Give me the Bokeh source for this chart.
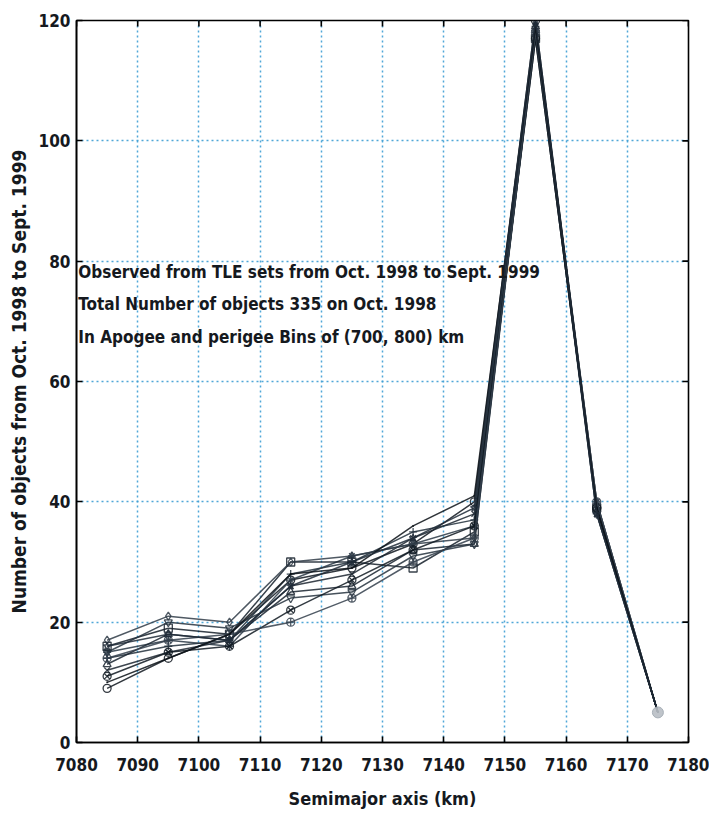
from bokeh.plotting import figure
from bokeh.models import FixedTicker, Range1d, Label
from bokeh.embed import file_html
from bokeh.resources import INLINE

# Semimajor-axis bin centres (km)
sma_bins = [7085, 7095, 7105, 7115, 7125, 7135, 7145, 7155, 7165, 7175]

# Monthly object counts per bin, Oct. 1998 .. Sept. 1999
months = ["Oct 1998", "Nov 1998", "Dec 1998", "Jan 1999", "Feb 1999", "Mar 1999",
          "Apr 1999", "May 1999", "Jun 1999", "Jul 1999", "Aug 1999", "Sep 1999"]
oct98 = [9, 14, 18, 27, 29, 33, 40, 120, 39, 5]
nov98 = [12, 15, 17, 26, 28, 34, 38, 119, 40, 5]
dec98 = [14, 16, 17, 28, 30, 35, 37, 118, 39, 5]
jan99 = [15, 17, 16, 27, 31, 33, 36, 119, 38, 5]
feb99 = [16, 19, 18, 30, 30, 29, 35, 117, 39, 5]
mar99 = [17, 21, 20, 30, 31, 33, 34, 118, 40, 5]
apr99 = [13, 18, 17, 25, 26, 32, 33, 119, 39, 5]
may99 = [15, 20, 19, 24, 25, 31, 33, 118, 38, 5]
jun99 = [11, 15, 16, 22, 27, 32, 36, 117, 39, 5]
jul99 = [14, 17, 18, 20, 24, 30, 34, 118, 40, 5]
aug99 = [10, 14, 18, 28, 29, 36, 41, 119, 39, 5]
sep99 = [16, 18, 17, 26, 30, 34, 39, 120, 38, 5]
series = [oct98, nov98, dec98, jan99, feb99, mar99, apr99, may99, jun99, jul99, aug99, sep99]

x_ticks = [7080, 7090, 7100, 7110, 7120, 7130, 7140, 7150, 7160, 7170, 7180]
y_ticks = [0, 20, 40, 60, 80, 100, 120]

note_lines = [
    "Observed from TLE sets from Oct. 1998 to Sept. 1999",
    "Total Number of objects 335 on Oct. 1998",
    "In Apogee and perigee Bins of (700, 800) km",
]

FONT = "'DejaVu Sans Condensed', 'Liberation Sans Narrow', 'Liberation Sans', sans-serif"
INK = "#15191e"

X0, X1 = 7080, 7180
Y0, Y1 = 0, 120

p = figure(width=709, height=819, output_backend="svg", toolbar_location=None,
           x_range=Range1d(X0, X1), y_range=Range1d(Y0, Y1),
           min_border_left=76, min_border_right=21, min_border_top=20,
           min_border_bottom=77, background_fill_color="white",
           border_fill_color="white")
p.outline_line_color = "black"
p.outline_line_width = 1.6

for ax in (p.xaxis[0], p.yaxis[0]):
    ax.major_tick_in = 6
    ax.major_tick_out = 0
    ax.minor_tick_line_color = None
    ax.axis_line_color = "black"
    ax.axis_line_width = 1.6
    ax.major_tick_line_color = "black"
    ax.major_tick_line_width = 1.6
    ax.major_label_text_font = FONT
    ax.major_label_text_font_style = "bold"
    ax.major_label_text_font_size = "17px"
    ax.major_label_text_color = INK
    ax.axis_label_text_font = FONT
    ax.axis_label_text_font_style = "bold"
    ax.axis_label_text_color = INK

p.xaxis[0].ticker = FixedTicker(ticks=x_ticks)
p.yaxis[0].ticker = FixedTicker(ticks=y_ticks)
p.xaxis[0].major_label_standoff = 15
p.yaxis[0].major_label_standoff = 6
p.xaxis[0].axis_label = "Semimajor axis (km)"
p.yaxis[0].axis_label = "Number of objects from Oct. 1998 to Sept. 1999"
p.xaxis[0].axis_label_text_font_size = "18px"
p.yaxis[0].axis_label_text_font_size = "19px"
p.xaxis[0].axis_label_standoff = 14
p.yaxis[0].axis_label_standoff = 6

# Inward ticks along the top and right edges of the box
p.segment(x0=x_ticks, y0=[Y1] * len(x_ticks), x1=x_ticks, y1=[Y1 - 1.0] * len(x_ticks),
          line_color="black", line_width=1.6)
p.segment(x0=[X1] * len(y_ticks), y0=y_ticks, x1=[X1 - 1.0] * len(y_ticks), y1=y_ticks,
          line_color="black", line_width=1.6)

p.xgrid.ticker = FixedTicker(ticks=x_ticks)
p.ygrid.ticker = FixedTicker(ticks=y_ticks)
for g in (p.xgrid[0], p.ygrid[0]):
    g.grid_line_color = "#3d9dd4"
    g.grid_line_dash = "2 3"
    g.grid_line_width = 1.5
    g.grid_line_alpha = 0.9

markers = ["circle", "x", "cross", "asterisk", "square", "diamond",
           "triangle", "inverted_triangle", "circle_x", "circle_cross", "dot", "star"]
colors = ["#101820", "#1c2630", "#22303c", "#2a3845", "#15202a", "#303c48",
          "#1a2530", "#26323e", "#111a22", "#34404c", "#0c1218", "#202c38"]

for counts, mk, c in zip(series, markers, colors):
    p.line(sma_bins, counts, line_color=c, line_width=1.5, line_alpha=0.85)
    p.scatter(sma_bins[:-1], counts[:-1], marker=mk, size=8, line_color=c,
              fill_color=None, line_width=1.3, line_alpha=0.85)

# The outermost bin is drawn as a faint grey dot
p.scatter([sma_bins[-1]], [series[0][-1]], marker="circle", size=11,
          fill_color="#b8bec4", line_color="#a8b0b8", fill_alpha=0.9)

for i, txt in enumerate(note_lines):
    p.add_layout(Label(x=7080.3, y=78.2 - i * 5.4, text=txt,
                       text_font=FONT, text_font_style="bold",
                       text_font_size="17px", text_color=INK,
                       text_baseline="middle", text_align="left"))

open("out.html", "w").write(file_html(p, INLINE))
